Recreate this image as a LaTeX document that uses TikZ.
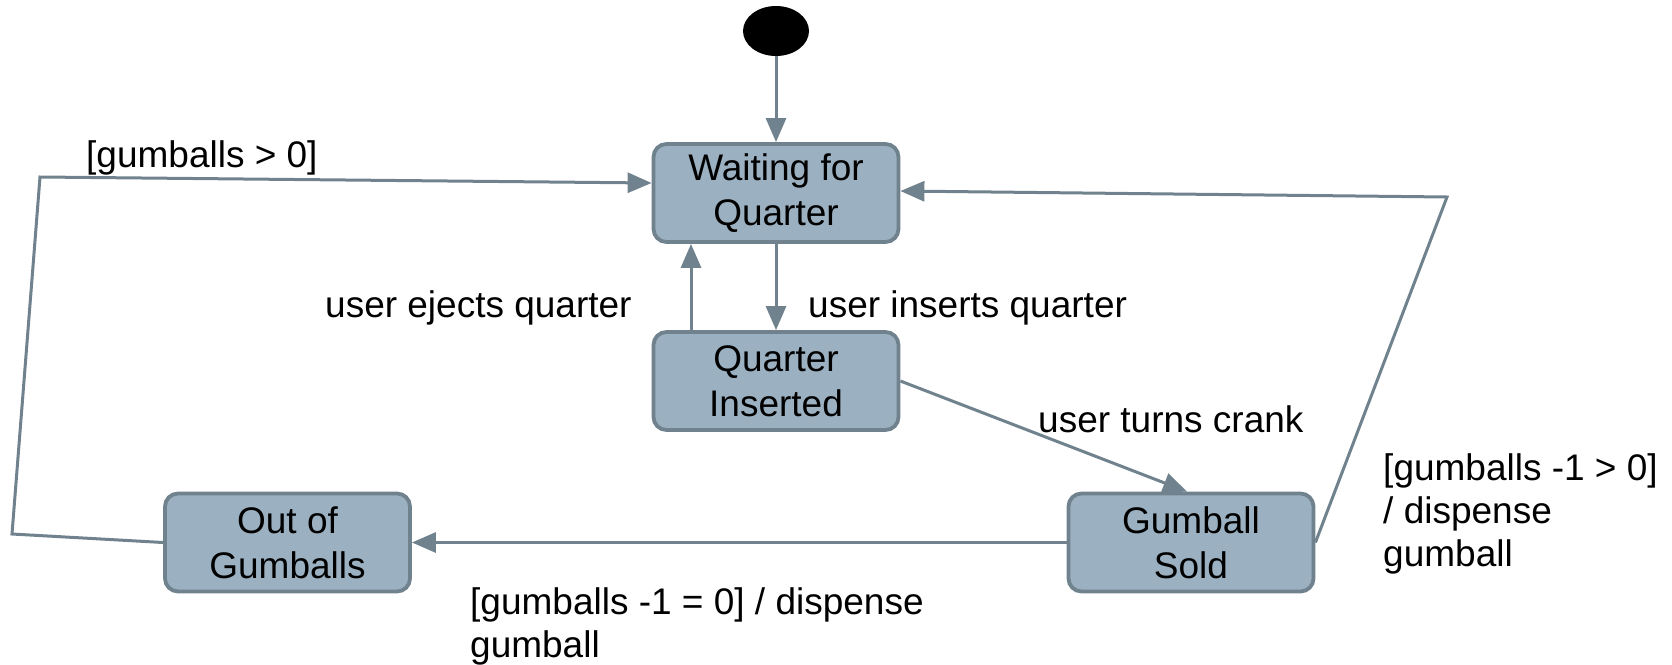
\documentclass[tikz,border=0pt]{standalone}
\usepackage{fontspec}
\setmainfont{Liberation Sans}
\usetikzlibrary{arrows.meta,shapes.geometric}
\definecolor{boxfill}{RGB}{155,176,192}
\definecolor{edgecol}{RGB}{112,130,142}
\begin{document}
\begin{tikzpicture}[x=1pt,y=-1pt,
  state/.style={draw=edgecol, line width=3.8pt, fill=boxfill, rounded corners=13pt,
    minimum width=245pt, minimum height=98pt, align=center, inner sep=0pt,
    font=\fontsize{37}{45}\selectfont, execute at begin node={\rule{0pt}{32pt}}},
  lbl/.style={font=\fontsize{37}{42}\selectfont, inner sep=0pt, anchor=base west},
  conn/.style={draw=edgecol, line width=3pt, -{Triangle[length=24pt,width=20pt]}},
  startdot/.style={ellipse, fill=black, draw=none, minimum width=66pt, minimum height=50pt, inner sep=0pt}]
\useasboundingbox (0,0) rectangle (1672,664);

% states
\node[startdot] (init) at (776,31) {};
\node[state] (wait) at (776,193) {Waiting for\\Quarter};
\node[state] (qi) at (776,381) {Quarter\\Inserted};
\node[state] (oog) at (287.5,542.5) {Out of\\Gumballs};
\node[state] (gs) at (1191,542.5) {Gumball\\Sold};

% free bend points
\coordinate (la) at (12,534);
\coordinate (lb) at (40,177);
\coordinate (ra) at (1447,197);

% connectors
\draw[conn] (init.south) -- (wait.north);
\draw[conn] (wait.south) -- (qi.north);
\draw[conn] ([xshift=-85pt]qi.north) -- ([xshift=-85pt]wait.south);
\draw[conn] (qi.east) -- ([xshift=-4pt]gs.north);
\draw[conn] (gs.west) -- (oog.east);
\draw[conn] (oog.west) -- (la) -- (lb) -- ([yshift=10pt]wait.west);
\draw[conn] (gs.east) -- (ra) -- ([yshift=2pt]wait.east);

% labels
\node[lbl] (g0) at (86,167) {[gumballs > 0]};
\node[lbl] (ej) at (325,317) {user ejects quarter};
\node[lbl] (in) at (808,317) {user inserts quarter};
\node[lbl] (tc) at (1038,432) {user turns crank};
\node[lbl] (r1) at (1383,480) {[gumballs -1 > 0]};
\node[lbl] (r2) at (1383,523) {/ dispense};
\node[lbl] (r3) at (1383,566) {gumball};
\node[lbl] (b1) at (470,614) {[gumballs -1 = 0] / dispense};
\node[lbl] (b2) at (470,657) {gumball};
\end{tikzpicture}
\end{document}
